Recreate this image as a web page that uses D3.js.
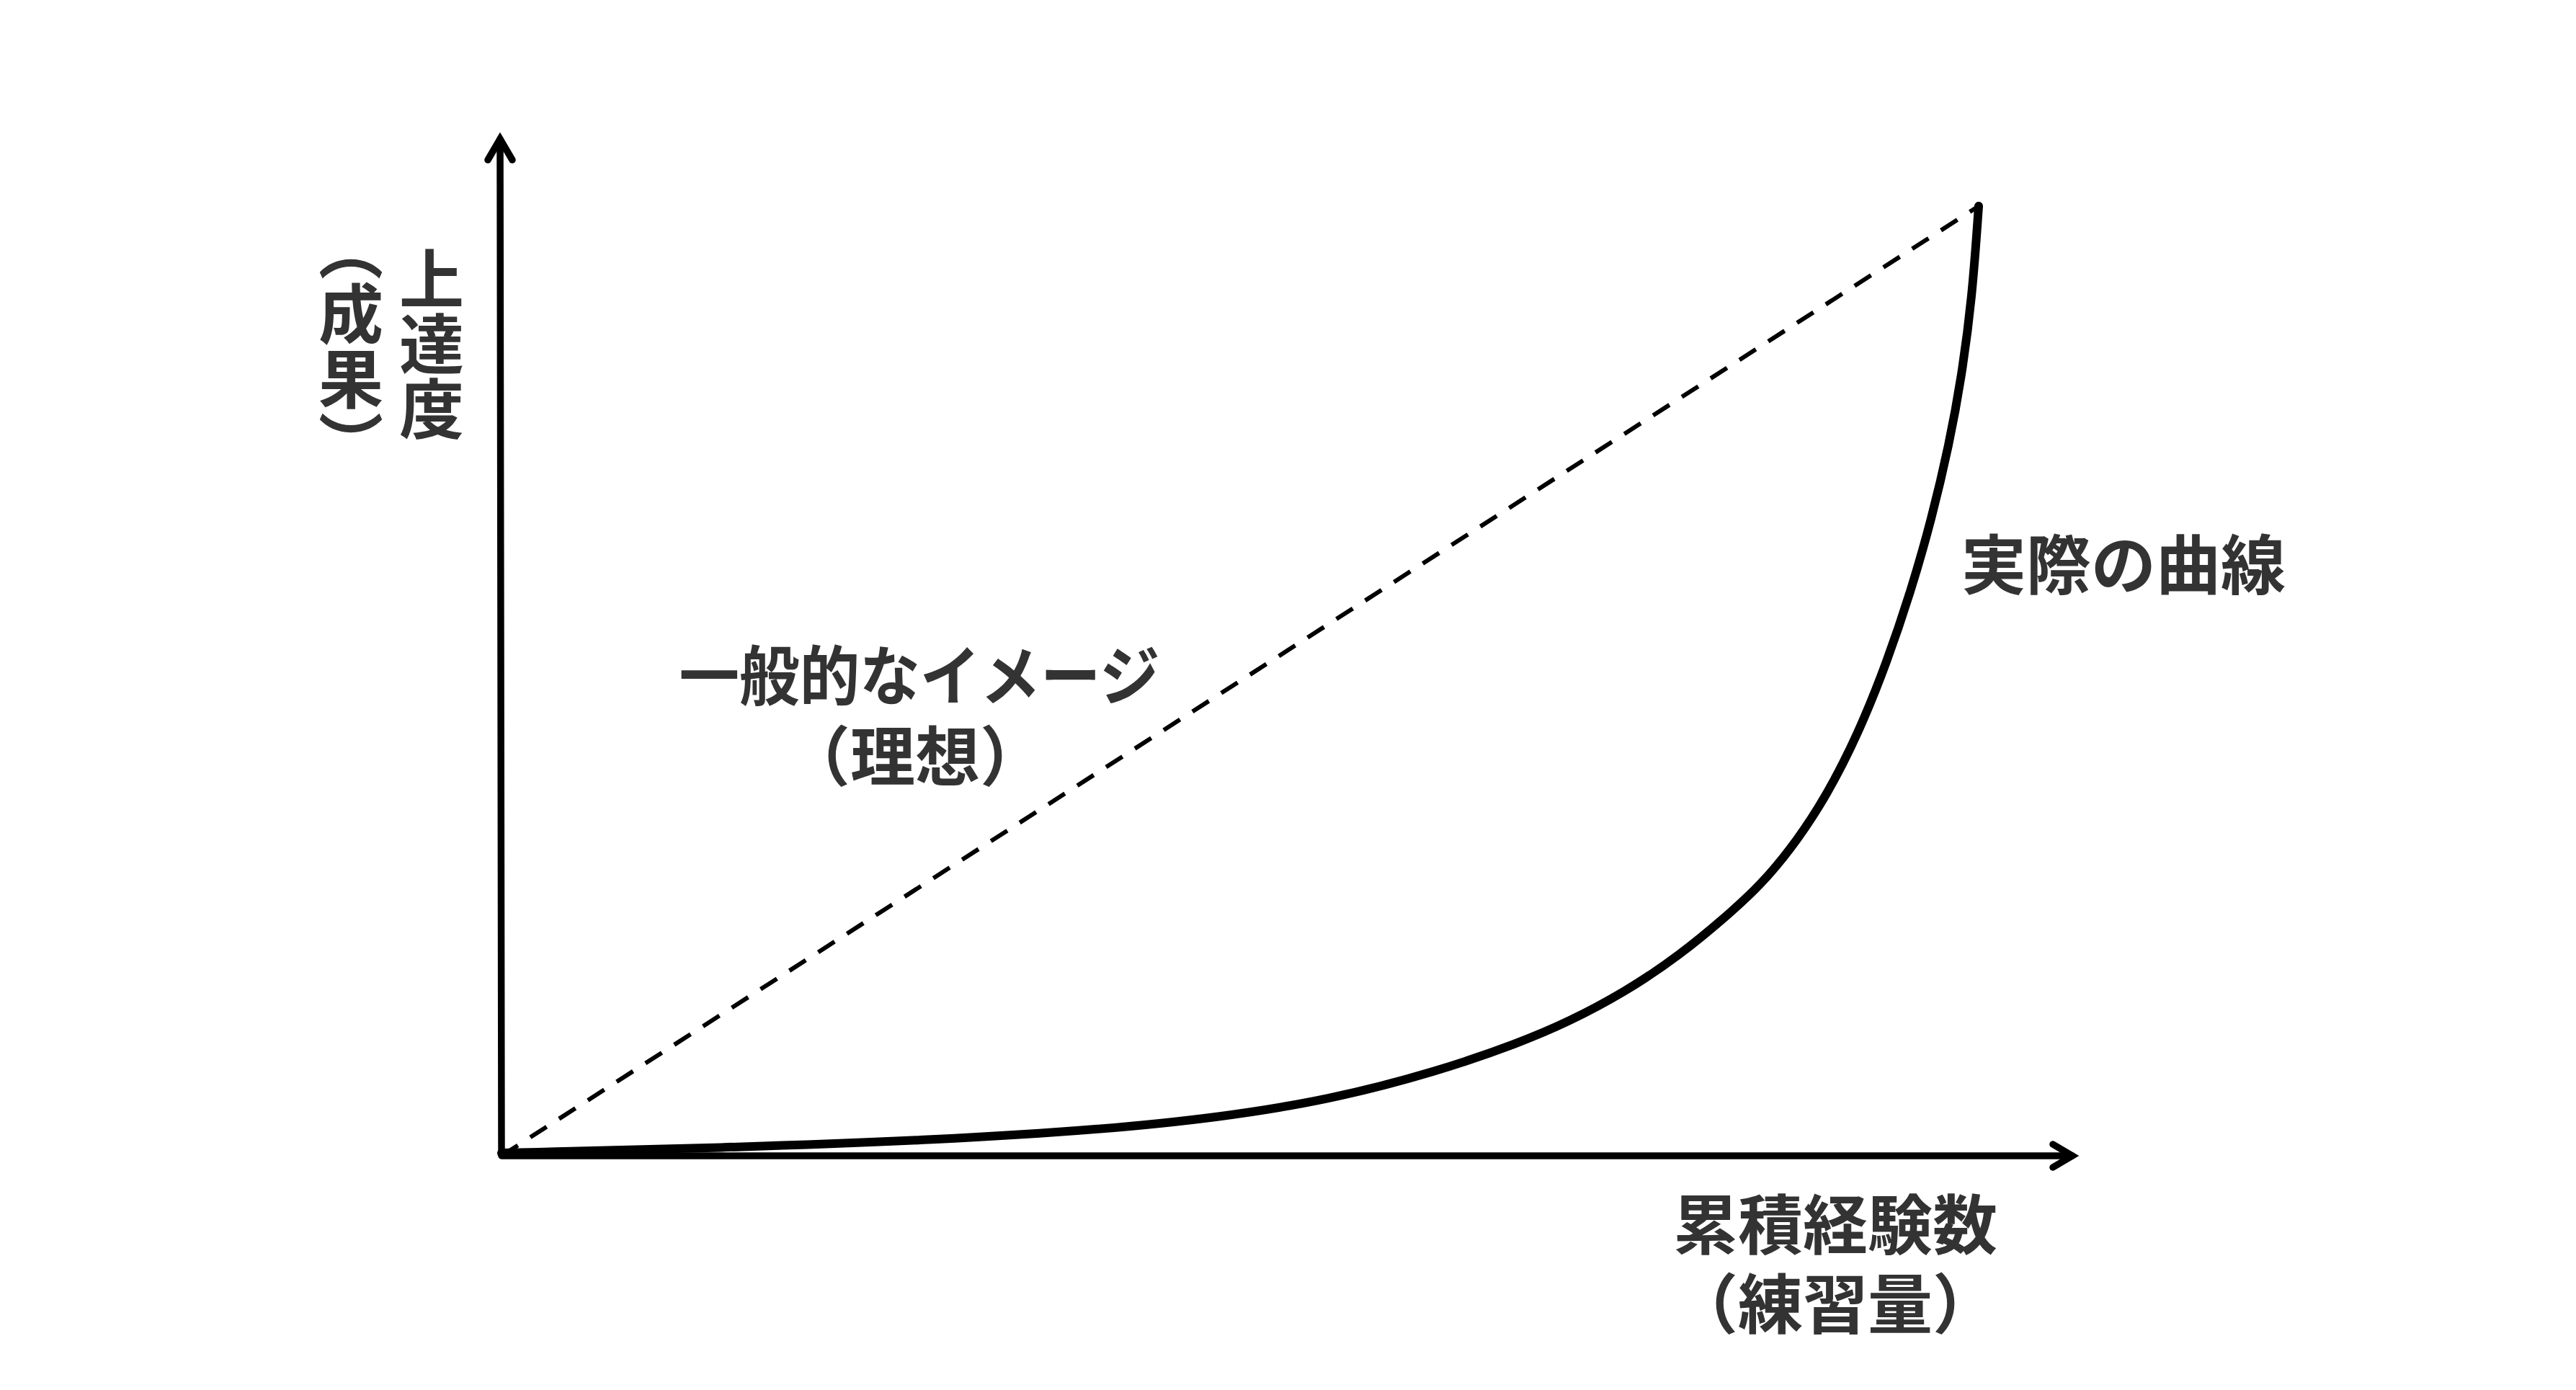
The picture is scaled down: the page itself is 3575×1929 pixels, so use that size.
<!DOCTYPE html>
<html>
<head>
<meta charset="utf-8">
<script src="https://cdnjs.cloudflare.com/ajax/libs/d3/7.8.5/d3.min.js"></script>
<style>
  body { margin: 0; background: #fff; }
  text { font-family: "Noto Sans CJK JP", sans-serif; font-weight: 700; fill: #333; }
</style>
</head>
<body>
<div id="chart"></div>
<script>
const width = 3575,
  height = 1929;

// x: 累積経験数, y: 上達度 (both 0-100)
const idealLine = [[0, 0], [100, 100]];
const actualCurve = [
  [0, 0.3], [14.83, 0.83], [29.76, 1.67], [40.98, 2.81], [48.44, 4.02], [55.9, 5.84],
  [63.37, 8.88], [68.93, 11.91], [72.24, 14.11], [75.95, 17.15], [79.71, 21.02],
  [83.41, 25.87], [85.27, 28.6], [87.22, 32.17], [89.22, 36.72], [90.83, 41.27],
  [92.2, 45.83], [93.71, 51.67], [95.41, 59.41], [96.83, 67.15], [98.0, 74.89],
  [98.83, 81.87], [99.56, 90.36], [100, 100]
];

const yTitle = '上達度';
const yTitleSub = '（成果）';
const xTitle = '累積経験数';
const xTitleSub = '（練習量）';
const idealLabel = ['一般的なイメージ', '（理想）'];
const actualLabel = '実際の曲線';

const fontSize = 90;

const svg = d3.select('#chart').append('svg')
  .attr('width', width)
  .attr('height', height);

const x = d3.scaleLinear().domain([0, 100]).range([696, 2746]);
const y = d3.scaleLinear().domain([0, 100]).range([1604, 286]);

const xEnd = 2876,
  yEnd = 193;

// axes with arrow heads
const axes = svg.append('g')
  .attr('fill', 'none')
  .attr('stroke', '#000')
  .attr('stroke-width', 9.5)
  .attr('stroke-linecap', 'round')
  .attr('stroke-linejoin', 'miter');

axes.append('path')
  .attr('d', `M${x(0) - 2},${yEnd} L${x(0)},${y(0)} L${xEnd},${y(0)}`)
  .attr('stroke-linejoin', 'round');

axes.append('path')
  .attr('d', `M${x(0) - 19},${yEnd + 29} L${x(0) - 2},${yEnd} L${x(0) + 15},${yEnd + 29}`);

axes.append('path')
  .attr('d', `M${xEnd - 27},${y(0) - 16} L${xEnd},${y(0)} L${xEnd - 27},${y(0) + 16}`);

const line = d3.line()
  .x(d => x(d[0]))
  .y(d => y(d[1]));

svg.append('path')
  .datum(idealLine)
  .attr('d', line)
  .attr('fill', 'none')
  .attr('stroke', '#000')
  .attr('stroke-width', 6)
  .attr('stroke-dasharray', '27,20.5');

svg.append('path')
  .datum(actualCurve)
  .attr('d', line.curve(d3.curveBasis))
  .attr('fill', 'none')
  .attr('stroke', '#000')
  .attr('stroke-width', 12)
  .attr('stroke-linecap', 'round');

// labels
const label = (txt, cx, baseline) => svg.append('text')
  .attr('x', cx)
  .attr('y', baseline)
  .attr('text-anchor', 'middle')
  .style('font-size', `${fontSize}px`)
  .text(txt);

label(idealLabel[0], 1276, 971)
  .attr('textLength', 667)
  .attr('lengthAdjust', 'spacingAndGlyphs');
label(idealLabel[1], 1270, 1083);
label(actualLabel, 2947, 817);
label(xTitle, 2547, 1733);
label(xTitleSub, 2547, 1843);

const vlabel = (txt, cx, cy) => svg.append('text')
  .attr('x', cx)
  .attr('y', cy)
  .attr('text-anchor', 'middle')
  .style('writing-mode', 'vertical-rl')
  .style('font-size', `${fontSize}px`)
  .text(txt);

vlabel(yTitle, 599, 477);
vlabel(yTitleSub, 487, 480);
</script>
</body>
</html>
